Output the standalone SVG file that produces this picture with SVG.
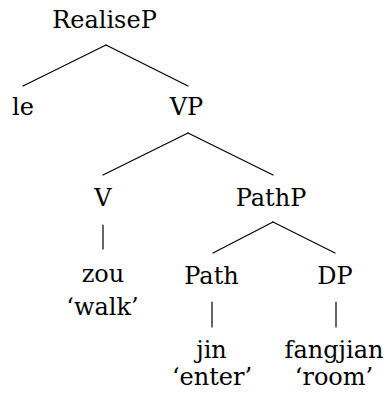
<svg xmlns="http://www.w3.org/2000/svg" width="388" height="405" viewBox="0 0 388 405">
<style>
text{font-family:'DejaVu Serif','Liberation Serif',serif;font-size:24px;fill:#000;text-anchor:middle}
.e line{stroke:#000;stroke-width:1.2;stroke-linecap:round}
</style>
<rect width="388" height="405" fill="#fff"/>
<g class="e" id="edges">
<line x1="106" y1="45" x2="23" y2="86"/>
<line x1="106" y1="45" x2="188" y2="86"/>
<line x1="188" y1="133" x2="103" y2="175"/>
<line x1="188" y1="133" x2="273" y2="175"/>
<line x1="103" y1="225" x2="103" y2="249"/>
<line x1="273" y1="222" x2="213" y2="253"/>
<line x1="273" y1="222" x2="335" y2="253"/>
<line x1="212" y1="302" x2="212" y2="327"/>
<line x1="336" y1="302" x2="336" y2="327"/>
</g>
<g id="n-realisep"><text x="104.5" y="28">RealiseP</text></g>
<g id="n-le"><text x="23" y="115">le</text></g>
<g id="n-vp"><text x="186.5" y="115">VP</text></g>
<g id="n-v"><text x="103" y="206">V</text></g>
<g id="n-pathp"><text x="271" y="206">PathP</text></g>
<g id="n-zou"><text x="103" y="282">zou</text><text x="102.5" y="315">‘walk’</text></g>
<g id="n-path"><text x="211.5" y="284">Path</text></g>
<g id="n-dp"><text x="335" y="284">DP</text></g>
<g id="n-jin"><text x="211.5" y="358">jin</text><text x="212" y="385">‘enter’</text></g>
<g id="n-fangjian"><text x="334" y="358">fangjian</text><text x="334" y="385">‘room’</text></g>
</svg>
